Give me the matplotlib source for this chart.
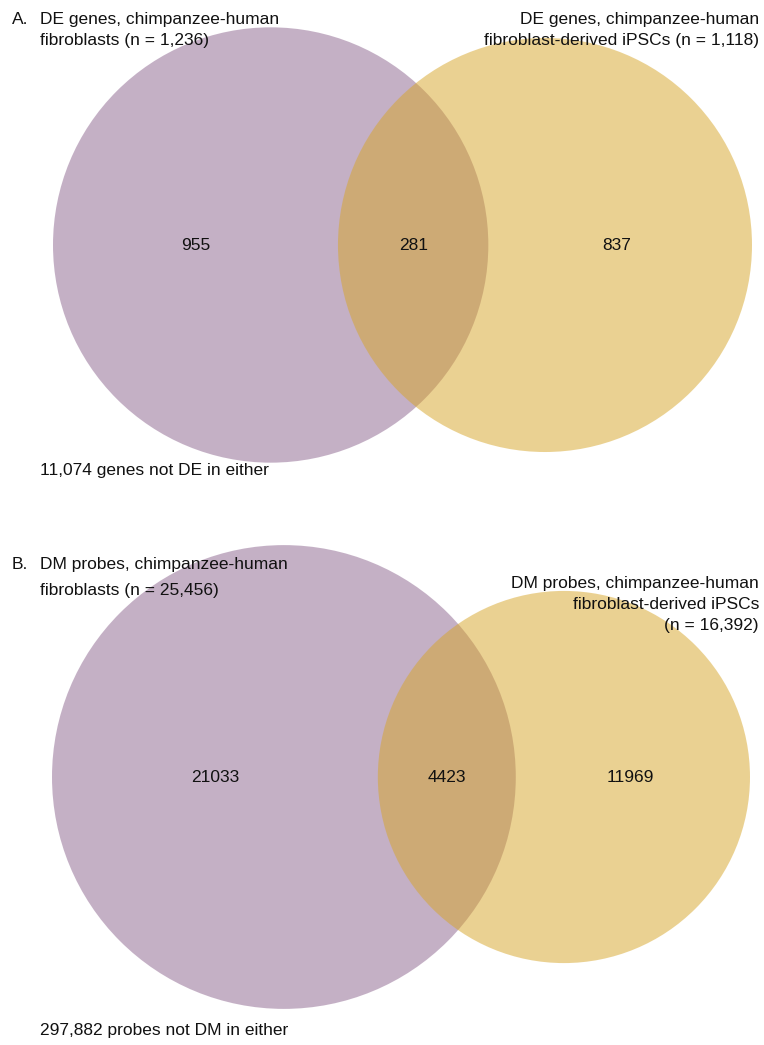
import numpy as np
import matplotlib
matplotlib.use("Agg")
import matplotlib.pyplot as plt
from matplotlib.patches import Circle

plt.rcParams['font.family'] = ['Liberation Sans', 'DejaVu Sans']

# Panel A: differentially expressed genes
a_only_fib = 955
a_both = 281
a_only_ipsc = 837
a_titles = (["DE genes, chimpanzee-human", "fibroblasts (n = 1,236)"],
            ["DE genes, chimpanzee-human", "fibroblast-derived iPSCs (n = 1,118)"])
a_footer = "11,074 genes not DE in either"

# Panel B: differentially methylated probes
b_only_fib = 21033
b_both = 4423
b_only_ipsc = 11969
b_titles = (["DM probes, chimpanzee-human", "fibroblasts (n = 25,456)"],
            ["DM probes, chimpanzee-human", "fibroblast-derived iPSCs", "(n = 16,392)"])
b_footer = "297,882 probes not DM in either"

PURPLE = (139/255, 99/255, 141/255)
GOLD = (215/255, 165/255, 39/255)
ALPHA = 0.5
FS = 12.5
TXT = '#111111'

W, H = 764, 1045
fig = plt.figure(figsize=(W/100, H/100), dpi=100)
ax = fig.add_axes([0, 0, 1, 1])
ax.set_xlim(0, W)
ax.set_ylim(H, 0)
ax.set_aspect('equal')
ax.axis('off')


def lens_area(r1, r2, d):
    if d >= r1 + r2:
        return 0.0
    if d <= abs(r1 - r2):
        return np.pi * min(r1, r2) ** 2
    a1 = r1**2 * np.arccos((d**2 + r1**2 - r2**2) / (2 * d * r1))
    a2 = r2**2 * np.arccos((d**2 + r2**2 - r1**2) / (2 * d * r2))
    k = 0.5 * np.sqrt((-d + r1 + r2) * (d + r1 - r2) * (d - r1 + r2) * (d + r1 + r2))
    return a1 + a2 - k


def venn2(only1, both, only2, x_left, x_right, cy):
    # area-proportional circles; centre distance solved from the overlap size
    n1, n2 = only1 + both, only2 + both
    r1, r2 = np.sqrt(n1 / np.pi), np.sqrt(n2 / np.pi)
    lo, hi = abs(r1 - r2), r1 + r2
    for _ in range(100):
        mid = 0.5 * (lo + hi)
        if lens_area(r1, r2, mid) > both:
            lo = mid
        else:
            hi = mid
    d = 0.5 * (lo + hi)
    s = (x_right - x_left) / (r1 + d + r2)
    R1, R2, D = r1 * s, r2 * s, d * s
    c1 = x_left + R1
    c2 = c1 + D
    ax.add_patch(Circle((c1, cy), R1, facecolor=PURPLE, alpha=ALPHA, lw=0))
    ax.add_patch(Circle((c2, cy), R2, facecolor=GOLD, alpha=ALPHA, lw=0))
    l1, r1e = c1 - R1, c1 + R1
    l2, r2e = c2 - R2, c2 + R2
    for xv, val in (((l1 + l2) / 2, only1), ((l2 + r1e) / 2, both), ((r1e + r2e) / 2 - 3, only2)):
        ax.text(xv, cy, str(val), ha='center', va='center', fontsize=FS, color=TXT)


venn2(a_only_fib, a_both, a_only_ipsc, 53, 752, 245)
venn2(b_only_fib, b_both, b_only_ipsc, 52, 750, 777)


def lines(x, baselines, texts, ha):
    for y, t in zip(baselines, texts):
        ax.text(x, y, t, ha=ha, va='baseline', fontsize=FS, color=TXT)


# Panel A text
ax.text(12, 24, "A.", ha='left', va='baseline', fontsize=FS, color=TXT)
lines(40, [24, 45], a_titles[0], 'left')
lines(759, [24, 45], a_titles[1], 'right')
ax.text(40, 475, a_footer, ha='left', va='baseline', fontsize=FS, color=TXT)

# Panel B text
ax.text(12, 569, "B.", ha='left', va='baseline', fontsize=FS, color=TXT)
lines(40, [569, 595], b_titles[0], 'left')
lines(759, [588, 609, 630], b_titles[1], 'right')
ax.text(40, 1035, b_footer, ha='left', va='baseline', fontsize=FS, color=TXT)

fig.savefig("out.png", dpi=100)
